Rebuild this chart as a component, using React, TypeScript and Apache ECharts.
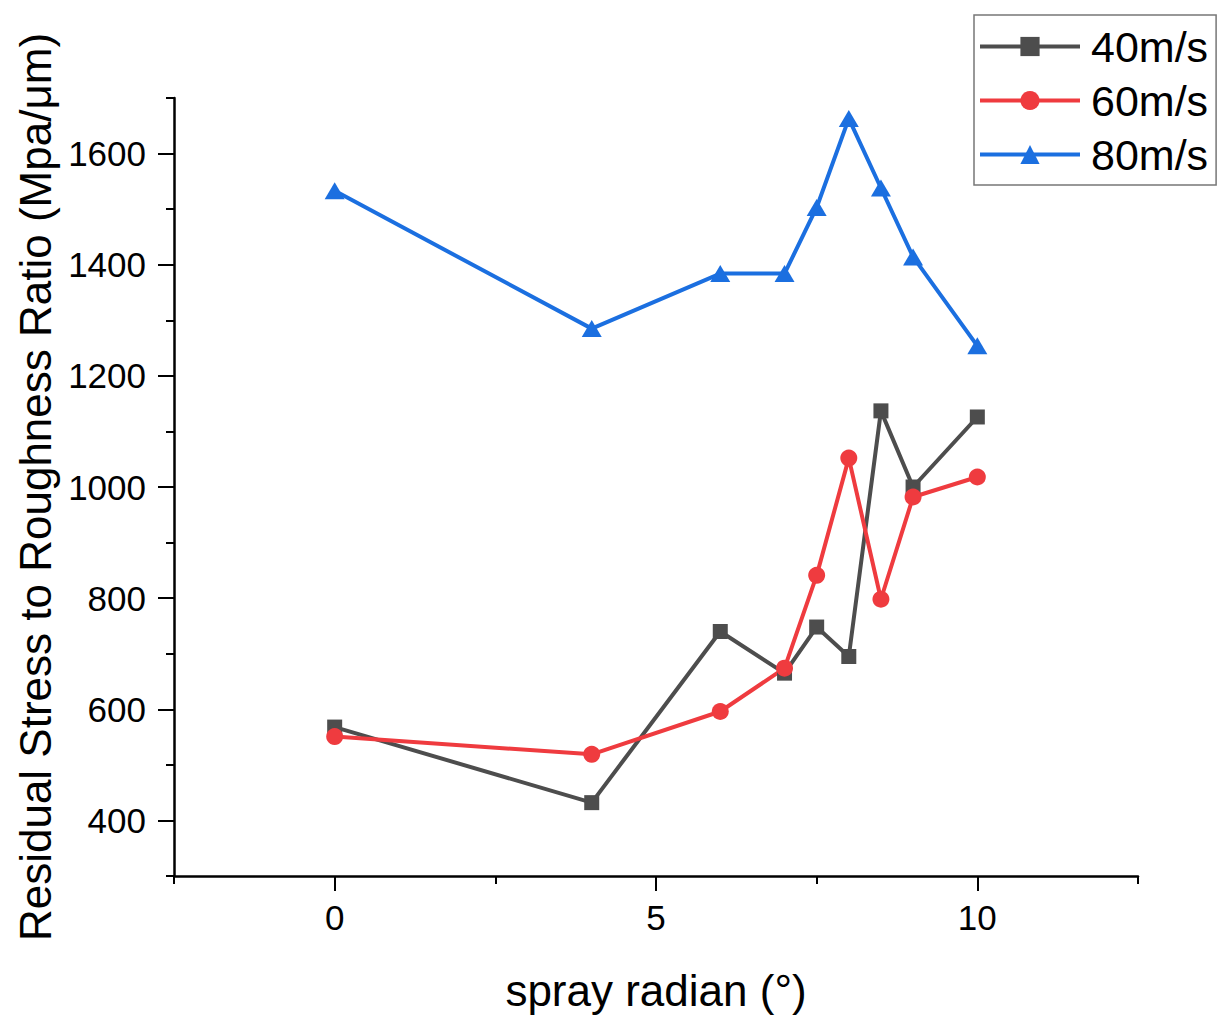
import React, { useEffect, useRef } from "react";
import * as echarts from "echarts";

const xValues = [0, 4, 6, 7, 7.5, 8, 8.5, 9, 10];
const series40 = [568, 432, 740, 665, 748, 695, 1137, 1000, 1126];
const series60 = [551, 519, 596, 674, 841, 1052, 798, 982, 1018];
const series80 = [1533, 1285, 1384, 1384, 1503, 1663, 1538, 1414, 1254];
const seriesNames = ["40m/s", "60m/s", "80m/s"];
const xMajorTicks = [0, 5, 10];
const xMinorTicks = [-2.5, 2.5, 7.5, 12.5];
const yMajorTicks = [400, 600, 800, 1000, 1200, 1400, 1600];
const yMinorTicks = [300, 500, 700, 900, 1100, 1300, 1500, 1700];

const FONT = "'Liberation Sans', Arial, sans-serif";

export default function App() {
  const ref = useRef<HTMLDivElement>(null);
  useEffect(() => {
    document.body.style.margin = "0";
    const chart = echarts.init(ref.current!, null, { renderer: "svg" });
    const pair = (ys: number[]) => xValues.map((x, i) => [x, ys[i]]);
    const axisLine = { show: true, onZero: false, lineStyle: { color: "#000", width: 2.5 } };
    const plain = (v: number) => String(v);
    chart.setOption({
      animation: false,
      backgroundColor: "#fff",
      textStyle: { fontFamily: FONT },
      grid: { left: 174, right: 94, top: 98, bottom: 152 },
      legend: {
        orient: "vertical",
        left: 974,
        top: 15,
        padding: [10, 8, 9, 4],
        itemWidth: 100,
        itemHeight: 24,
        itemGap: 11,
        borderColor: "#777",
        borderWidth: 1.5,
        lineStyle: { width: 4 },
        textStyle: { fontSize: 43, color: "#000", fontFamily: FONT, padding: [0, 0, 0, 6] },
        data: seriesNames,
      },
      xAxis: [
        {
          type: "value",
          min: -2.5,
          max: 12.5,
          position: "bottom",
          name: "spray radian (°)",
          nameLocation: "middle",
          nameGap: 92,
          nameTextStyle: { fontSize: 44, color: "#000", fontFamily: FONT },
          axisLine,
          axisTick: { show: true, inside: false, length: 15, customValues: xMajorTicks, lineStyle: { color: "#000", width: 2 } },
          axisLabel: { show: true, customValues: xMajorTicks, formatter: plain, margin: 24, fontSize: 35, color: "#000", fontFamily: FONT },
          splitLine: { show: false },
        },
        {
          type: "value",
          min: -2.5,
          max: 12.5,
          position: "bottom",
          axisLine: { show: false, onZero: false },
          axisTick: { show: true, inside: false, length: 8, customValues: xMinorTicks, lineStyle: { color: "#000", width: 2 } },
          axisLabel: { show: false },
          splitLine: { show: false },
        },
      ],
      yAxis: [
        {
          type: "value",
          min: 300,
          max: 1700,
          position: "left",
          name: "Residual Stress to Roughness Ratio (Mpa/μm)",
          nameLocation: "middle",
          nameGap: 115,
          nameTextStyle: { fontSize: 44, color: "#000", fontFamily: FONT },
          axisLine,
          axisTick: { show: true, inside: false, length: 16, customValues: yMajorTicks, lineStyle: { color: "#000", width: 2 } },
          axisLabel: { show: true, customValues: yMajorTicks, formatter: plain, margin: 28, fontSize: 35, color: "#000", fontFamily: FONT },
          splitLine: { show: false },
        },
        {
          type: "value",
          min: 300,
          max: 1700,
          position: "left",
          axisLine: { show: false, onZero: false },
          axisTick: { show: true, inside: false, length: 8, customValues: yMinorTicks, lineStyle: { color: "#000", width: 2 } },
          axisLabel: { show: false },
          splitLine: { show: false },
        },
      ],
      series: [
        {
          name: seriesNames[0],
          type: "line",
          data: pair(series40),
          symbol: "rect",
          symbolSize: 15,
          itemStyle: { color: "#4d4d4d" },
          lineStyle: { color: "#4d4d4d", width: 4 },
        },
        {
          name: seriesNames[1],
          type: "line",
          data: pair(series60),
          symbol: "circle",
          symbolSize: 17,
          itemStyle: { color: "#ef3b3f" },
          lineStyle: { color: "#ef3b3f", width: 4 },
        },
        {
          name: seriesNames[2],
          type: "line",
          data: pair(series80),
          symbol: "triangle",
          symbolSize: [20, 17],
          itemStyle: { color: "#1b6fe0" },
          lineStyle: { color: "#1b6fe0", width: 4 },
        },
      ],
    });
    return () => chart.dispose();
  }, []);
  return <div ref={ref} style={{ width: 1232, height: 1028 }} />;
}
